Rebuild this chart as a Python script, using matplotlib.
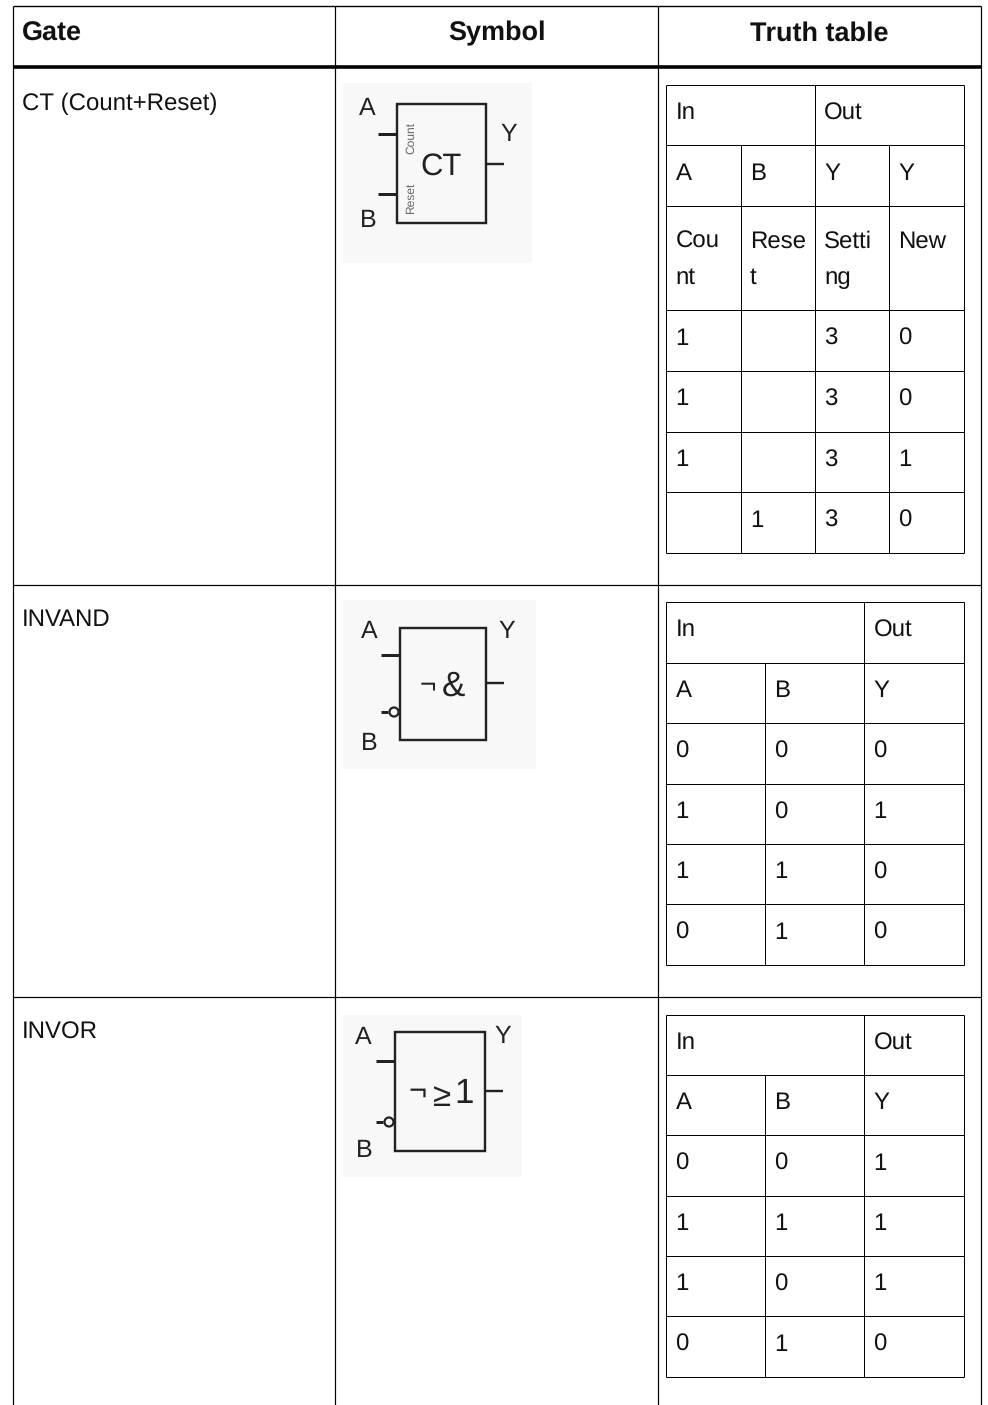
import matplotlib
matplotlib.use("Agg")
import matplotlib.pyplot as plt
from matplotlib.patches import Rectangle, Circle

plt.rcParams['font.family'] = ['Liberation Sans', 'DejaVu Sans']
plt.rcParams['text.hinting'] = 'no_hinting'
plt.rcParams['text.hinting_factor'] = 1

# the chart's text content
headers = ["Gate", "Symbol", "Truth table"]
gates = ["CT (Count+Reset)", "INVAND", "INVOR"]

ct_span = [("In", 0), ("Out", 2)]
ct_rows = [
    ["A", "B", "Y", "Y"],
    ["Cou\nnt", "Rese\nt", "Setti\nng", "New"],
    ["1", "", "3", "0"],
    ["1", "", "3", "0"],
    ["1", "", "3", "1"],
    ["", "1", "3", "0"],
]
invand_span = [("In", 0), ("Out", 2)]
invand_rows = [
    ["A", "B", "Y"],
    ["0", "0", "0"],
    ["1", "0", "1"],
    ["1", "1", "0"],
    ["0", "1", "0"],
]
invor_span = [("In", 0), ("Out", 2)]
invor_rows = [
    ["A", "B", "Y"],
    ["0", "0", "1"],
    ["1", "1", "1"],
    ["1", "0", "1"],
    ["0", "1", "0"],
]

# layout in image pixels
outer_x = [12.5, 335, 658, 981]
outer_top = 6
header_line = 67
row_lines = [585, 997]
gate_baselines = [110.4, 626.4, 1038.4]

ct_x = [666, 740.5, 814.5, 889, 963.5]
ct_y = [84.5, 145, 205.5, 310, 370.5, 431.5, 492, 552.5]
inv_x = [666, 765, 864, 963.5]
invand_y = [601.5, 662.5, 722.5, 783.5, 843.5, 904, 964.5]
invor_y = [1014.5, 1074.5, 1135, 1195.5, 1255.5, 1316, 1376.5]

BODY = 17.2
HEAD = 19.3
PX = 0.72
INK = '#222222'

fig = plt.figure(figsize=(9.88, 14.05), dpi=100)
ax = fig.add_axes([0, 0, 1, 1])
ax.set_xlim(0, 988)
ax.set_ylim(1405, 0)
ax.axis('off')


def line(x0, y0, x1, y1, lw=1.0, color='black', z=2):
    ax.plot([x0, x1], [y0, y1], color=color, lw=lw * PX, solid_capstyle='butt', zorder=z)


def draw_table(xs, ys, span, rows):
    for y in ys:
        line(xs[0], y, xs[-1], y)
    line(xs[0], ys[0], xs[0], ys[-1])
    line(xs[-1], ys[0], xs[-1], ys[-1])
    for x in xs[1:-1]:
        # the span row only has the divider above the out columns
        top = ys[0] if x == xs[2] else ys[1]
        line(x, top, x, ys[-1])
    for label, col in span:
        ax.text(xs[col] + 9.5, ys[0] + 34.8, label, fontsize=BODY, color='#111111')
    for r, row in enumerate(rows):
        for c, cell in enumerate(row):
            for k, part in enumerate(cell.split("\n")):
                ax.text(xs[c] + 9.5, ys[r + 1] + 34.8 + 37 * k + (7 if "\n" in cell or cell == "New" else 0),
                        part, fontsize=BODY, color='#111111')


def draw_symbol(bg, box, a_y, b_y, y_y, labels, invert_b):
    ax.add_patch(Rectangle((bg[0], bg[1]), bg[2] - bg[0], bg[3] - bg[1], fc='#f8f8f8', ec='none', zorder=1))
    x0, y0, x1, y1 = box
    ax.add_patch(Rectangle((x0, y0), x1 - x0, y1 - y0, fc='none', ec=INK, lw=2.4 * PX, zorder=3))
    line(x0 - 19, a_y, x0, a_y, 3, INK, 3)
    if invert_b:
        line(x0 - 19, b_y, x0 - 12, b_y, 3, INK, 3)
        ax.add_patch(Circle((x0 - 6, b_y), 4.5, fc='#f8f8f8', ec=INK, lw=2.2 * PX, zorder=3))
    else:
        line(x0 - 19, b_y, x0, b_y, 3, INK, 3)
    line(x1, y_y, x1 + 18, y_y, 2.4, INK, 3)
    for text, x, y in labels:
        ax.text(x, y, text, fontsize=18, color=INK, ha='center', va='center', zorder=3)


def sym_text(x, y, text, size):
    ax.text(x, y, text, fontsize=size, color=INK, ha='center', va='center', zorder=3)


# outer table
line(outer_x[0], outer_top, outer_x[-1], outer_top, 1.4)
for x in outer_x:
    line(x, outer_top, x, 1405, 1.2)
line(outer_x[0], header_line, outer_x[-1], header_line, 3.6)
for y in row_lines:
    line(outer_x[0], y, outer_x[-1], y, 1.2)

ax.text(22, 40.7, headers[0], fontsize=HEAD, fontweight='bold', color='#111111')
ax.text(497, 40.7, headers[1], fontsize=HEAD, fontweight='bold', color='#111111', ha='center')
ax.text(819, 40.7, headers[2], fontsize=HEAD, fontweight='bold', color='#111111', ha='center')

for name, baseline in zip(gates, gate_baselines):
    ax.text(22, baseline, name, fontsize=BODY, color='#111111')

# symbols
draw_symbol((343, 83, 532, 263), (397, 104, 486, 223), 134, 194, 164,
            [("A", 367, 109), ("B", 368, 221), ("Y", 509, 135)], False)
sym_text(441, 167, "CT", 22)
ax.text(411, 138, "Count", fontsize=8.5, color='#666666', rotation=90, ha='center', va='center', zorder=3)
ax.text(411, 198, "Reset", fontsize=8.5, color='#666666', rotation=90, ha='center', va='center', zorder=3)

draw_symbol((343, 600, 536, 769), (400, 628, 486, 740), 655, 712, 683,
            [("A", 369, 632), ("B", 369, 744), ("Y", 507, 632)], True)
sym_text(428, 685, "\u00ac", 20)
sym_text(453, 687, "&", 25)

draw_symbol((343, 1015, 522, 1177), (395, 1032, 485, 1151), 1061, 1122, 1091,
            [("A", 363, 1038), ("B", 364, 1151), ("Y", 503, 1037)], True)
sym_text(418, 1092, "\u00ac", 22)
sym_text(442, 1097, "\u2265", 24)
sym_text(464, 1094, "1", 25)

# truth tables
draw_table(ct_x, ct_y, ct_span, ct_rows)
draw_table(inv_x, invand_y, invand_span, invand_rows)
draw_table(inv_x, invor_y, invor_span, invor_rows)

fig.savefig("out.png", dpi=100)
